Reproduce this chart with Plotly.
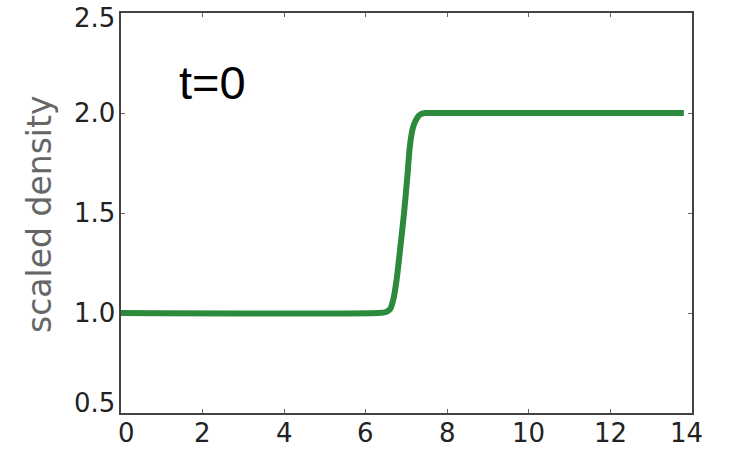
import plotly.graph_objects as go

# Density profile at t=0: flat at 1, sharp rise near x=7, flat at 2
position = [0.0, 6.3, 6.5, 6.6, 6.68, 6.76, 6.85, 6.94, 7.02, 7.08, 7.15, 7.22, 7.32, 7.45, 7.6, 13.8]
density = [1.0, 1.0, 1.005, 1.02, 1.07, 1.17, 1.33, 1.50, 1.68, 1.83, 1.92, 1.96, 1.99, 2.0, 2.0, 2.0]

x_ticks = [0, 2, 4, 6, 8, 10, 12, 14]
x_tick_text = ["0", "2", "4", "6", "8", "10", "12", "14"]
y_ticks = [0.5, 1.0, 1.5, 2.0, 2.5]
y_tick_text = ["0.5", "1.0", "1.5", "2.0", "2.5"]

fig = go.Figure()
fig.add_trace(go.Scatter(
    x=position, y=density, mode="lines",
    line=dict(color="#2b8a3c", width=6, shape="spline", smoothing=0.6),
    showlegend=False, hoverinfo="skip",
))

axis_common = dict(
    showgrid=False, zeroline=False, automargin=False, showticklabels=False,
    showline=True, linecolor="#444444", linewidth=1.5, mirror="ticks",
    ticks="inside", ticklen=4, tickwidth=1, tickcolor="#666666",
)

fig.update_layout(
    width=729, height=449,
    margin=dict(l=121, r=37, t=13, b=36, autoexpand=False),
    paper_bgcolor="white", plot_bgcolor="white",
    xaxis=dict(range=[0, 14], tickvals=x_ticks, **axis_common),
    yaxis=dict(range=[0.5, 2.5], tickvals=y_ticks, **axis_common),
)

# Tick labels: the end labels are nudged inward so they stay on the page
tick_font = dict(family="DejaVu Sans", size=26, color="#222222")
x_end_shift = {0: 5, 14: -6}
for val, txt in zip(x_ticks, x_tick_text):
    fig.add_annotation(
        text=txt, xref="x", yref="paper", x=val, y=0,
        xanchor="center", yanchor="top", xshift=x_end_shift.get(val, 0), yshift=-3,
        showarrow=False, font=tick_font,
    )
y_end_shift = {0.5: 10, 2.5: -5}
for val, txt in zip(y_ticks, y_tick_text):
    fig.add_annotation(
        text=txt, xref="paper", yref="y", x=0, y=val,
        xanchor="right", yanchor="middle", xshift=-4, yshift=y_end_shift.get(val, 0),
        showarrow=False, font=tick_font,
    )

fig.add_annotation(
    text="scaled density", textangle=-90,
    xref="paper", yref="paper", x=(39 - 121) / 571, y=0.495,
    xanchor="center", yanchor="middle", showarrow=False,
    font=dict(family="DejaVu Sans", size=33, color="#666666"),
)

fig.add_annotation(
    text="t=0", xref="x", yref="y", x=2.25, y=2.155,
    xanchor="center", yanchor="middle", showarrow=False,
    font=dict(family="Liberation Sans", size=47, color="#000000"),
)

fig.write_html("out.html")
